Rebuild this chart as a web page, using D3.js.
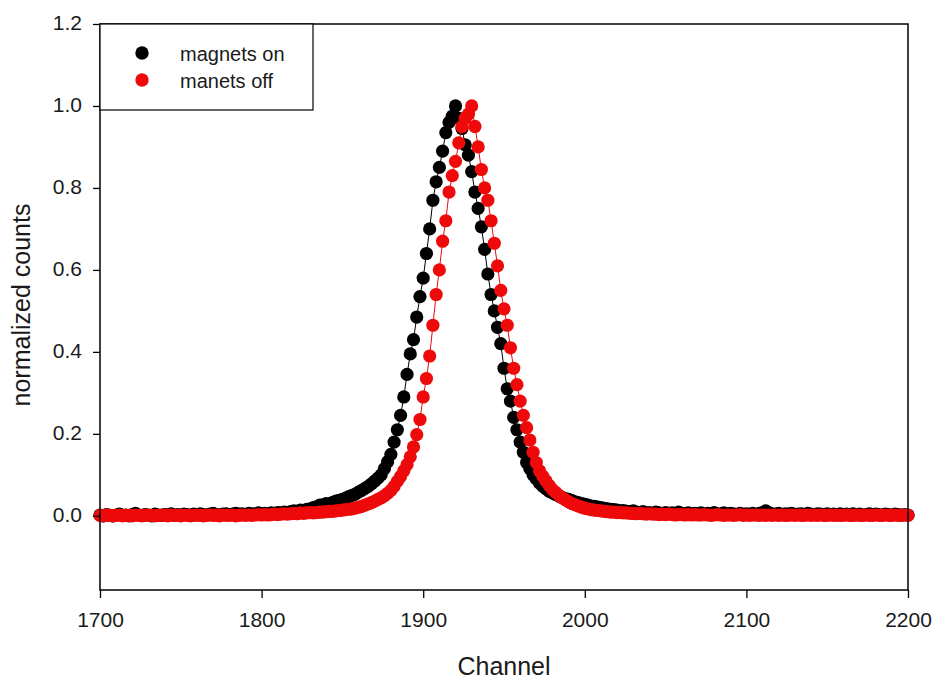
<!DOCTYPE html>
<html>
<head>
<meta charset="utf-8">
<script src="https://cdn.jsdelivr.net/npm/d3@7"></script>
<style>
  html, body { margin: 0; padding: 0; background: #fff; }
  svg { display: block; font-family: "Liberation Sans", Arial, sans-serif; }
</style>
</head>
<body>
<svg id="chart" width="935" height="679"></svg>
<script>
// ---- data ----
const channels = d3.range(1700, 2201, 2);

const magnetsOn = [
0.002,0.000,0.003,0.001,0.000,0.002,0.004,0.001,0.002,0.000,
0.003,0.006,0.002,0.001,0.003,0.002,0.000,0.004,0.002,0.001,
0.003,0.002,0.005,0.001,0.003,0.002,0.004,0.003,0.001,0.004,
0.002,0.005,0.003,0.002,0.004,0.006,0.003,0.002,0.004,0.005,
0.003,0.004,0.006,0.004,0.005,0.003,0.006,0.005,0.004,0.007,
0.005,0.006,0.004,0.007,0.006,0.008,0.007,0.009,0.008,0.010,
0.012,0.011,0.014,0.013,0.016,0.017,0.020,0.022,0.026,0.027,
0.030,0.029,0.033,0.036,0.038,0.040,0.043,0.047,0.050,0.053,
0.058,0.062,0.067,0.072,0.078,0.085,0.092,0.100,0.115,0.132,
0.150,0.180,0.210,0.245,0.290,0.345,0.395,0.430,0.485,0.535,
0.580,0.640,0.700,0.770,0.815,0.850,0.890,0.935,0.960,0.975,
1.000,0.970,0.945,0.905,0.880,0.840,0.790,0.750,0.705,0.650,
0.590,0.540,0.500,0.460,0.420,0.360,0.310,0.280,0.240,0.210,
0.180,0.155,0.130,0.115,0.100,0.090,0.080,0.072,0.066,0.060,
0.056,0.052,0.048,0.045,0.042,0.040,0.037,0.034,0.032,0.030,
0.028,0.026,0.024,0.023,0.021,0.020,0.018,0.017,0.016,0.015,
0.014,0.012,0.013,0.011,0.010,0.012,0.009,0.008,0.010,0.007,
0.008,0.006,0.009,0.007,0.005,0.008,0.006,0.007,0.005,0.009,
0.006,0.005,0.007,0.004,0.006,0.005,0.007,0.004,0.006,0.005,
0.008,0.004,0.005,0.007,0.004,0.006,0.005,0.003,0.006,0.004,
0.005,0.004,0.006,0.003,0.006,0.008,0.012,0.007,0.005,0.004,
0.006,0.003,0.005,0.004,0.006,0.003,0.004,0.005,0.003,0.006,
0.004,0.003,0.005,0.004,0.002,0.005,0.003,0.004,0.002,0.005,
0.003,0.004,0.002,0.005,0.003,0.004,0.002,0.003,0.005,0.002,
0.004,0.003,0.002,0.004,0.003,0.002,0.004,0.003,0.002,0.003,
0.002
];

const magnetsOff = [
0.001,0.000,0.002,0.001,0.000,0.001,0.002,0.000,0.001,0.001,
0.000,0.002,0.001,0.000,0.001,0.002,0.001,0.000,0.001,0.002,
0.001,0.000,0.002,0.001,0.001,0.000,0.002,0.001,0.000,0.001,
0.002,0.001,0.000,0.001,0.002,0.001,0.001,0.000,0.002,0.001,
0.001,0.002,0.000,0.001,0.002,0.001,0.002,0.001,0.002,0.003,
0.002,0.003,0.002,0.003,0.004,0.003,0.004,0.005,0.004,0.005,
0.006,0.005,0.007,0.006,0.007,0.008,0.007,0.008,0.009,0.009,
0.010,0.011,0.011,0.012,0.013,0.014,0.015,0.016,0.017,0.019,
0.021,0.023,0.026,0.029,0.032,0.036,0.040,0.044,0.049,0.055,
0.062,0.072,0.084,0.096,0.110,0.125,0.144,0.168,0.198,0.235,
0.290,0.335,0.390,0.465,0.540,0.600,0.670,0.720,0.790,0.830,
0.865,0.910,0.950,0.970,0.980,1.000,0.950,0.900,0.845,0.800,
0.770,0.720,0.665,0.610,0.550,0.505,0.465,0.410,0.360,0.320,
0.280,0.245,0.215,0.185,0.155,0.130,0.110,0.097,0.085,0.074,
0.064,0.057,0.050,0.044,0.039,0.034,0.030,0.027,0.024,0.021,
0.018,0.017,0.015,0.014,0.013,0.012,0.011,0.010,0.009,0.009,
0.008,0.008,0.007,0.007,0.006,0.006,0.005,0.006,0.005,0.004,
0.005,0.004,0.004,0.003,0.004,0.003,0.004,0.003,0.002,0.003,
0.003,0.002,0.003,0.002,0.003,0.002,0.002,0.003,0.002,0.001,
0.002,0.003,0.002,0.001,0.002,0.002,0.001,0.002,0.003,0.001,
0.002,0.001,0.002,0.002,0.001,0.002,0.001,0.002,0.001,0.002,
0.001,0.002,0.001,0.001,0.002,0.001,0.002,0.001,0.001,0.002,
0.001,0.002,0.001,0.002,0.001,0.001,0.002,0.001,0.002,0.001,
0.001,0.002,0.001,0.001,0.002,0.001,0.001,0.002,0.001,0.001,
0.002,0.001,0.001,0.002,0.001,0.001,0.002,0.001,0.001,0.002,
0.001
];

const xTicks = [1700, 1800, 1900, 2000, 2100, 2200];
const yTicks = [0.0, 0.2, 0.4, 0.6, 0.8, 1.0, 1.2];
const seriesNames = ["magnets on", "manets off"];
const seriesColors = ["#000000", "#ee0a0a"];

// ---- layout ----
const svg = d3.select("#chart");
const mLeft = 100, mRight = 908, mTop = 24, mBottom = 590;

const x = d3.scaleLinear().domain([1700, 2200]).range([mLeft, mRight]);
const y = d3.scaleLinear().domain([-0.181, 1.2]).range([mBottom, mTop]);

// series
const allSeries = [magnetsOn, magnetsOff];
const plot = svg.append("g");
allSeries.forEach((vals, si) => {
  const pts = channels.map((c, i) => [c, vals[i]]);
  const g = plot.append("g");
  g.append("path")
    .datum(pts)
    .attr("fill", "none")
    .attr("stroke", seriesColors[si])
    .attr("stroke-width", 1)
    .attr("d", d3.line().x(d => x(d[0])).y(d => y(d[1])));
  g.selectAll("circle")
    .data(pts)
    .join("circle")
    .attr("cx", d => x(d[0]))
    .attr("cy", d => y(d[1]))
    .attr("r", 6.6)
    .attr("fill", seriesColors[si]);
});

// frame
svg.append("rect")
  .attr("x", mLeft).attr("y", mTop)
  .attr("width", mRight - mLeft).attr("height", mBottom - mTop)
  .attr("fill", "none").attr("stroke", "#000").attr("stroke-width", 1.5);

// axes
const xAxis = svg.append("g")
  .attr("transform", `translate(0,${mBottom})`)
  .call(d3.axisBottom(x).tickValues(xTicks).tickFormat(d3.format("d")).tickSize(8).tickSizeOuter(0).tickPadding(14));
const yAxis = svg.append("g")
  .attr("transform", `translate(${mLeft},0)`)
  .call(d3.axisLeft(y).tickValues(yTicks).tickFormat(d3.format(".1f")).tickSize(7).tickSizeOuter(0).tickPadding(11));
[xAxis, yAxis].forEach(a => {
  a.select(".domain").remove();
  a.selectAll(".tick line").attr("stroke", "#000").attr("stroke-width", 1.3);
  a.selectAll(".tick text").attr("fill", "#1a1a1a").style("font-size", "21px")
    .style("font-family", "'Liberation Sans', Arial, sans-serif");
});
yAxis.selectAll(".tick text").attr("dy", "0.28em");

// axis titles
svg.append("text")
  .attr("x", 504).attr("y", 675)
  .attr("text-anchor", "middle")
  .attr("fill", "#1a1a1a")
  .style("font-size", "25px")
  .text("Channel");
svg.append("text")
  .attr("transform", `translate(30,305) rotate(-90)`)
  .attr("text-anchor", "middle")
  .attr("fill", "#1a1a1a")
  .style("font-size", "25px")
  .text("normalized counts");

// legend
const legend = svg.append("g");
legend.append("rect")
  .attr("x", mLeft).attr("y", mTop)
  .attr("width", 213).attr("height", 86)
  .attr("fill", "#fff").attr("stroke", "#000").attr("stroke-width", 1.2);
seriesNames.forEach((name, i) => {
  legend.append("circle")
    .attr("cx", 142).attr("cy", 53 + i * 27)
    .attr("r", 6.7).attr("fill", seriesColors[i]);
  legend.append("text")
    .attr("x", 180).attr("y", 61 + i * 26.5)
    .attr("fill", "#1a1a1a")
    .style("font-size", "20px")
    .text(name);
});
</script>
</body>
</html>
